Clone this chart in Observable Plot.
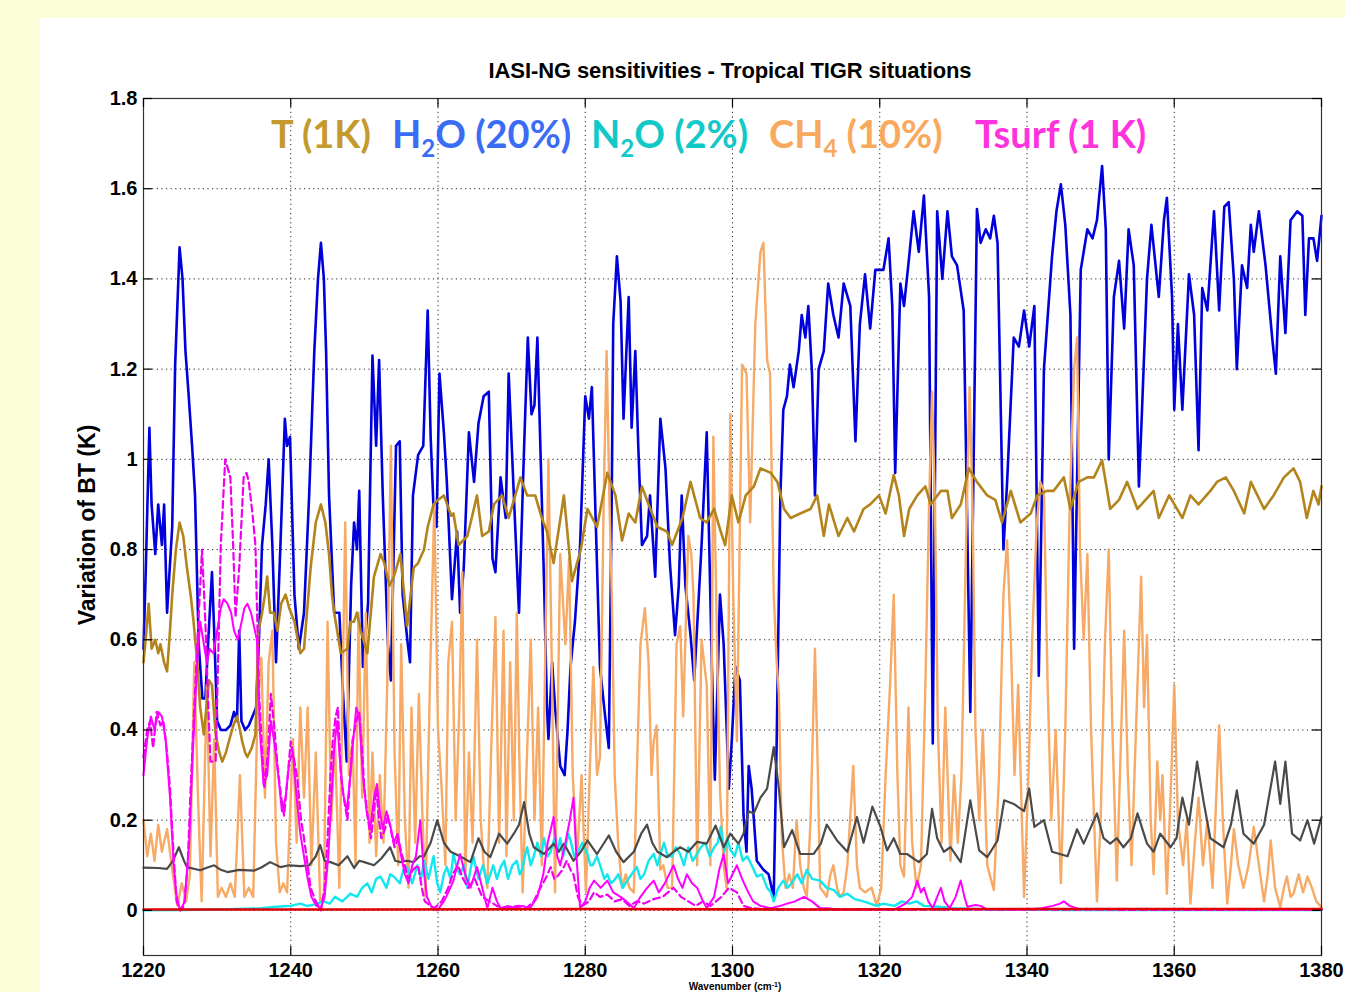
<!DOCTYPE html>
<html>
<head>
<meta charset="utf-8">
<script src="https://cdn.jsdelivr.net/npm/d3@7"></script>
<script src="https://cdn.jsdelivr.net/npm/@observablehq/plot@0.6"></script>
<style>
  html, body { margin: 0; padding: 0; }
  body { width: 1345px; height: 992px; overflow: hidden; background: #fafdd7; position: relative; font-family: "Liberation Sans", Arial, sans-serif; }
  #panel { position: absolute; left: 40px; top: 18px; right: 0; bottom: 0; background: #fff; }
  #chart { position: absolute; left: 0; top: 0; }
  #title { position: absolute; left: 0; width: 1460px; top: 58px; text-align: center; font-weight: bold; font-size: 22px; color: #000; letter-spacing: -0.1px; }
  #ylabel { position: absolute; left: 87px; top: 525px; transform: translate(-50%, -50%) rotate(-90deg); font-weight: bold; font-size: 23px; white-space: nowrap; }
  #xlabel { position: absolute; left: 0; width: 1470px; top: 982px; height: 10px; text-align: center; font-weight: bold; font-size: 10px; line-height: 10px; white-space: nowrap; }
  #xlabel sup { font-size: 7px; line-height: 0; vertical-align: 3px; }
  .lg { position: absolute; top: 114px; font-family: Lato, "Open Sans", sans-serif; font-weight: bold; font-size: 38px; white-space: nowrap; line-height: 1; }
  .lg sub { font-size: 24px; vertical-align: -9px; line-height: 0; }
</style>
</head>
<body>
<div id="panel"></div>
<div id="chart"></div>
<div id="title">IASI-NG sensitivities - Tropical TIGR situations</div>
<div id="ylabel">Variation of BT (K)</div>
<div id="xlabel">Wavenumber (cm<sup>-1</sup>)</div>
<div class="lg" style="left:271px;color:#c49a2e">T (1K)</div>
<div class="lg" style="left:392px;color:#3b6cf4">H<sub>2</sub>O (20%)</div>
<div class="lg" style="left:591px;color:#12c9c9">N<sub>2</sub>O (2%)</div>
<div class="lg" style="left:769px;color:#f9a95c">CH<sub>4</sub> (10%)</div>
<div class="lg" style="left:975px;color:#ff33dd">Tsurf (1 K)</div>
<script>
// ---- axis ticks ----
const xTicks = [1220, 1240, 1260, 1280, 1300, 1320, 1340, 1360, 1380];
const yTicks = [0, 0.2, 0.4, 0.6, 0.8, 1, 1.2, 1.4, 1.6, 1.8];

// ---- series: [wavenumber (cm-1), variation of BT (K)] ----
const h2o = [[1220.0,0.58],[1220.3,0.75],[1220.8,1.07],[1221.1,0.90],[1221.6,0.79],[1222.0,0.90],[1222.5,0.81],[1222.8,0.90],[1223.2,0.66],[1223.9,0.85],[1224.3,1.21],[1224.9,1.47],[1225.3,1.40],[1225.7,1.24],[1226.1,1.15],[1226.6,1.03],[1227.0,0.92],[1227.5,0.59],[1228.0,0.47],[1228.4,0.47],[1228.8,0.60],[1229.3,0.75],[1229.6,0.62],[1230.0,0.42],[1230.5,0.40],[1231.2,0.40],[1231.8,0.41],[1232.3,0.44],[1232.7,0.42],[1233.0,0.62],[1233.3,0.42],[1233.8,0.40],[1234.3,0.41],[1234.8,0.43],[1235.3,0.45],[1235.7,0.61],[1236.1,0.81],[1236.6,0.90],[1237.0,1.00],[1237.5,0.81],[1238.0,0.55],[1238.6,0.81],[1239.2,1.09],[1239.5,1.03],[1239.9,1.05],[1240.5,0.70],[1241.1,0.58],[1241.8,0.66],[1242.5,0.92],[1243.2,1.24],[1243.7,1.40],[1244.1,1.48],[1244.5,1.40],[1244.8,1.24],[1245.2,0.92],[1245.9,0.66],[1246.6,0.66],[1247.1,0.48],[1247.6,0.33],[1248.2,0.72],[1248.6,0.86],[1249.0,0.80],[1249.3,0.93],[1249.8,0.54],[1250.5,0.68],[1251.1,1.23],[1251.6,1.03],[1252.0,1.22],[1252.5,0.92],[1253.2,0.59],[1253.6,0.51],[1254.3,1.03],[1254.8,1.04],[1255.2,0.70],[1255.9,0.59],[1256.2,0.55],[1256.6,0.92],[1257.3,1.01],[1258.0,1.03],[1258.6,1.33],[1259.0,1.05],[1259.4,0.89],[1259.8,0.85],[1260.2,1.19],[1260.8,1.06],[1261.2,0.95],[1261.9,0.69],[1262.6,0.84],[1263.0,0.66],[1263.5,0.76],[1264.2,1.06],[1264.9,0.95],[1265.5,1.08],[1266.2,1.14],[1266.9,1.15],[1267.4,0.78],[1267.8,0.75],[1268.5,0.96],[1269.2,0.87],[1269.6,1.19],[1270.3,0.92],[1271.0,0.66],[1271.7,1.03],[1272.2,1.27],[1272.7,1.10],[1273.1,1.12],[1273.5,1.27],[1273.9,1.03],[1274.4,0.73],[1274.8,0.45],[1275.0,0.38],[1275.5,0.55],[1275.9,0.45],[1276.6,0.32],[1277.2,0.30],[1277.6,0.40],[1278.0,0.54],[1278.6,0.64],[1279.3,0.81],[1280.0,1.14],[1280.5,1.09],[1280.9,1.16],[1281.4,0.875],[1282.0,0.54],[1282.7,0.43],[1283.2,0.36],[1283.6,0.92],[1283.8,1.30],[1284.3,1.45],[1284.8,1.35],[1285.2,1.09],[1285.9,1.36],[1286.3,1.07],[1286.8,1.24],[1287.2,1.03],[1287.7,0.81],[1288.4,0.83],[1288.8,0.92],[1289.5,0.74],[1290.2,1.09],[1290.9,0.98],[1291.5,0.77],[1292.2,0.61],[1292.7,0.72],[1293.1,0.92],[1293.6,0.72],[1294.3,0.61],[1294.8,0.51],[1295.8,0.81],[1296.5,1.06],[1297.2,0.54],[1297.6,0.29],[1298.3,0.70],[1298.8,0.59],[1299.5,0.27],[1299.9,0.375],[1300.4,0.54],[1301.0,0.51],[1301.5,0.21],[1301.9,0.13],[1302.2,0.32],[1302.6,0.27],[1303.3,0.11],[1304.2,0.09],[1304.9,0.08],[1305.6,0.03],[1306.0,0.375],[1306.5,0.92],[1306.9,1.11],[1307.4,1.14],[1307.8,1.21],[1308.3,1.16],[1309.0,1.24],[1309.4,1.32],[1309.9,1.27],[1310.3,1.34],[1310.8,1.19],[1311.2,0.92],[1311.7,1.20],[1312.4,1.24],[1313.0,1.39],[1313.7,1.32],[1314.4,1.27],[1315.1,1.39],[1316.0,1.34],[1316.7,1.04],[1317.3,1.30],[1318.0,1.41],[1318.7,1.29],[1319.4,1.42],[1320.5,1.42],[1321.0,1.47],[1321.2,1.49],[1321.7,1.34],[1322.1,0.97],[1322.8,1.39],[1323.3,1.34],[1324.0,1.45],[1324.6,1.55],[1325.3,1.46],[1326.0,1.585],[1326.7,1.36],[1327.2,0.37],[1327.8,1.55],[1328.5,1.40],[1329.2,1.55],[1329.8,1.45],[1330.5,1.43],[1331.4,1.33],[1332.3,0.44],[1333.2,1.555],[1333.7,1.48],[1334.4,1.51],[1335.0,1.49],[1335.5,1.54],[1336.0,1.48],[1336.8,0.80],[1337.3,0.95],[1338.2,1.27],[1338.9,1.25],[1339.6,1.33],[1340.3,1.25],[1341.0,1.34],[1341.6,0.52],[1342.3,1.20],[1343.4,1.45],[1344.0,1.55],[1344.6,1.61],[1345.2,1.52],[1345.9,1.32],[1346.4,0.58],[1347.3,1.42],[1348.2,1.51],[1348.9,1.49],[1349.5,1.53],[1350.2,1.65],[1350.7,1.51],[1351.1,1.00],[1351.8,1.36],[1352.5,1.44],[1353.2,1.29],[1353.8,1.51],[1354.5,1.43],[1355.2,0.94],[1355.6,1.10],[1356.3,1.40],[1356.9,1.52],[1357.9,1.36],[1358.6,1.53],[1359.0,1.58],[1359.7,1.36],[1360.0,1.11],[1360.5,1.30],[1361.1,1.11],[1362.0,1.41],[1362.7,1.32],[1363.3,1.02],[1363.8,1.38],[1364.5,1.33],[1365.4,1.55],[1366.1,1.33],[1366.8,1.56],[1367.4,1.57],[1368.1,1.40],[1368.5,1.20],[1369.2,1.43],[1369.9,1.38],[1370.4,1.52],[1370.8,1.46],[1371.5,1.55],[1372.4,1.43],[1373.3,1.27],[1373.8,1.19],[1374.4,1.45],[1375.1,1.28],[1375.8,1.53],[1376.7,1.55],[1377.4,1.54],[1377.8,1.32],[1378.3,1.49],[1378.9,1.49],[1379.4,1.44],[1380.0,1.54]];

const temp = [[1220.0,0.55],[1220.4,0.62],[1220.7,0.68],[1221.1,0.58],[1221.6,0.60],[1222.0,0.57],[1222.3,0.59],[1222.8,0.55],[1223.2,0.53],[1223.6,0.62],[1223.9,0.70],[1224.4,0.80],[1224.9,0.86],[1225.4,0.83],[1225.9,0.76],[1226.4,0.70],[1226.8,0.64],[1227.3,0.55],[1227.7,0.45],[1228.2,0.39],[1228.6,0.46],[1228.9,0.51],[1229.3,0.50],[1229.8,0.39],[1230.3,0.35],[1230.7,0.33],[1231.2,0.35],[1231.6,0.375],[1232.2,0.41],[1232.7,0.43],[1233.1,0.40],[1233.4,0.375],[1233.8,0.35],[1234.1,0.34],[1234.7,0.36],[1235.2,0.39],[1235.6,0.62],[1236.0,0.65],[1236.5,0.70],[1236.8,0.74],[1237.2,0.66],[1237.7,0.66],[1238.2,0.62],[1238.7,0.68],[1239.3,0.70],[1239.8,0.67],[1240.5,0.64],[1241.3,0.57],[1241.8,0.58],[1242.7,0.76],[1243.4,0.86],[1244.1,0.90],[1244.7,0.86],[1245.2,0.79],[1245.6,0.70],[1245.9,0.66],[1246.8,0.57],[1247.7,0.58],[1248.1,0.64],[1248.6,0.64],[1249.0,0.66],[1249.5,0.62],[1250.4,0.57],[1251.3,0.74],[1252.2,0.79],[1252.7,0.77],[1253.4,0.72],[1254.0,0.74],[1254.9,0.79],[1255.8,0.63],[1256.7,0.76],[1257.3,0.77],[1258.1,0.80],[1258.6,0.85],[1259.4,0.90],[1260.0,0.91],[1260.8,0.92],[1261.8,0.875],[1262.1,0.88],[1262.8,0.81],[1264.0,0.83],[1265.3,0.92],[1266.0,0.83],[1266.9,0.84],[1267.6,0.90],[1268.7,0.92],[1269.6,0.87],[1271.2,0.96],[1272.1,0.92],[1273.2,0.92],[1274.1,0.87],[1274.8,0.84],[1275.7,0.77],[1277.1,0.92],[1278.2,0.73],[1279.4,0.80],[1280.3,0.89],[1281.6,0.85],[1283.0,0.97],[1284.1,0.92],[1285.0,0.82],[1285.9,0.88],[1286.8,0.86],[1287.7,0.94],[1288.6,0.90],[1289.8,0.85],[1291.1,0.84],[1291.8,0.81],[1293.2,0.87],[1294.3,0.95],[1295.6,0.87],[1296.5,0.86],[1297.5,0.89],[1298.4,0.84],[1299.0,0.81],[1299.9,0.92],[1300.8,0.86],[1301.8,0.92],[1302.9,0.94],[1303.8,0.98],[1305.2,0.97],[1306.1,0.95],[1307.0,0.89],[1307.9,0.87],[1309.2,0.88],[1310.6,0.89],[1311.5,0.92],[1312.4,0.83],[1313.1,0.90],[1314.4,0.83],[1315.6,0.87],[1316.5,0.84],[1317.8,0.89],[1318.7,0.90],[1319.9,0.92],[1320.8,0.88],[1321.9,0.965],[1322.6,0.92],[1323.3,0.83],[1324.0,0.89],[1325.1,0.92],[1326.2,0.94],[1326.9,0.90],[1328.3,0.93],[1329.2,0.93],[1329.8,0.87],[1331.0,0.90],[1332.1,0.98],[1333.2,0.95],[1334.6,0.92],[1335.7,0.91],[1336.6,0.86],[1337.8,0.93],[1339.1,0.86],[1340.5,0.88],[1341.4,0.92],[1342.7,0.93],[1343.6,0.93],[1345.0,0.96],[1345.9,0.89],[1347.0,0.95],[1348.2,0.96],[1349.1,0.96],[1350.2,0.998],[1351.3,0.89],[1352.5,0.91],[1353.6,0.95],[1355.0,0.89],[1356.1,0.91],[1357.2,0.93],[1357.9,0.87],[1359.3,0.92],[1361.1,0.87],[1362.2,0.92],[1363.3,0.90],[1364.9,0.93],[1365.8,0.95],[1367.0,0.96],[1368.1,0.93],[1369.5,0.88],[1370.4,0.95],[1371.3,0.92],[1372.2,0.89],[1373.5,0.92],[1374.9,0.96],[1376.2,0.98],[1377.1,0.95],[1378.0,0.87],[1378.9,0.93],[1379.6,0.90],[1380.0,0.94]];

const ch4 = [[1220.0,0.20],[1220.5,0.12],[1221.0,0.17],[1221.5,0.11],[1222.0,0.19],[1222.5,0.13],[1223.2,0.18],[1223.9,0.09],[1224.6,0.01],[1225.2,0.06],[1225.8,0.02],[1226.3,0.08],[1226.9,0.55],[1227.4,0.25],[1227.9,0.02],[1228.6,0.50],[1229.1,0.12],[1229.6,0.38],[1230.1,0.03],[1230.6,0.05],[1231.2,0.03],[1231.8,0.06],[1232.4,0.03],[1233.1,0.30],[1233.7,0.03],[1234.3,0.05],[1234.9,0.03],[1235.5,0.45],[1236.0,0.56],[1236.5,0.25],[1237.0,0.55],[1237.5,0.62],[1238.0,0.15],[1238.5,0.04],[1239.0,0.06],[1239.5,0.04],[1240.3,0.38],[1240.8,0.15],[1241.3,0.45],[1241.8,0.25],[1242.3,0.45],[1242.8,0.10],[1243.4,0.35],[1244.0,0.02],[1244.5,0.03],[1245.0,0.64],[1245.5,0.20],[1246.0,0.38],[1246.6,0.05],[1247.4,0.86],[1247.9,0.30],[1248.4,0.38],[1248.8,0.10],[1249.2,0.66],[1249.7,0.25],[1250.2,0.66],[1250.7,0.15],[1251.1,0.35],[1251.6,0.12],[1252.1,0.30],[1252.6,0.15],[1253.1,0.50],[1253.6,1.03],[1254.1,0.35],[1254.6,0.10],[1255.0,0.59],[1255.5,0.20],[1256.0,0.05],[1256.4,0.45],[1256.9,0.15],[1257.4,0.48],[1257.9,0.20],[1258.3,0.03],[1258.9,0.50],[1259.5,0.90],[1260.0,0.40],[1260.5,0.27],[1261.0,0.10],[1261.4,0.55],[1261.9,0.64],[1262.4,0.20],[1262.9,0.45],[1263.3,0.75],[1263.7,0.07],[1264.2,0.35],[1264.7,0.15],[1265.3,0.60],[1265.8,0.20],[1266.2,0.10],[1266.7,0.05],[1267.3,0.40],[1267.8,0.65],[1268.3,0.15],[1268.9,0.62],[1269.3,0.12],[1269.8,0.55],[1270.3,0.20],[1270.7,0.66],[1271.1,0.30],[1271.5,0.04],[1272.0,0.30],[1272.6,0.60],[1273.1,0.20],[1273.6,0.45],[1274.1,0.10],[1274.6,0.60],[1275.0,1.00],[1275.5,0.50],[1275.9,0.04],[1276.6,0.79],[1277.3,0.59],[1277.8,0.78],[1278.3,0.30],[1278.9,0.12],[1279.5,0.30],[1280.1,0.04],[1280.6,0.30],[1281.1,0.54],[1281.6,0.30],[1282.0,0.34],[1282.5,0.90],[1282.9,1.24],[1283.3,0.90],[1283.6,0.70],[1284.0,0.30],[1284.5,0.14],[1285.0,0.05],[1285.5,0.08],[1286.0,0.05],[1286.6,0.04],[1287.0,0.30],[1287.5,0.59],[1288.1,0.67],[1288.6,0.55],[1289.0,0.30],[1289.3,0.375],[1289.7,0.41],[1290.2,0.09],[1290.6,0.10],[1291.2,0.05],[1291.8,0.05],[1292.4,0.59],[1292.9,0.63],[1293.3,0.43],[1294.0,0.83],[1294.4,0.79],[1294.7,0.70],[1295.2,0.10],[1295.8,0.60],[1296.5,0.50],[1297.0,0.10],[1297.4,1.05],[1297.9,0.59],[1298.3,0.27],[1298.8,0.10],[1299.2,0.05],[1299.7,1.10],[1300.1,0.70],[1300.6,0.375],[1301.3,1.21],[1301.9,1.19],[1302.4,0.86],[1303.1,1.30],[1303.8,1.46],[1304.2,1.48],[1304.7,1.22],[1305.1,1.19],[1305.6,0.70],[1306.0,0.55],[1306.3,0.48],[1306.7,0.16],[1307.2,0.05],[1307.7,0.08],[1308.2,0.05],[1308.7,0.20],[1309.2,0.10],[1309.7,0.05],[1310.1,0.03],[1310.6,0.20],[1311.2,0.58],[1311.6,0.30],[1311.9,0.05],[1312.4,0.04],[1312.8,0.03],[1313.3,0.08],[1313.7,0.10],[1314.2,0.05],[1314.6,0.03],[1315.1,0.04],[1315.6,0.10],[1316.4,0.32],[1316.9,0.10],[1317.3,0.05],[1318.0,0.04],[1318.9,0.05],[1319.6,0.01],[1320.2,0.05],[1320.8,0.30],[1321.4,0.50],[1321.9,0.70],[1322.4,0.30],[1322.8,0.10],[1323.3,0.075],[1323.9,0.45],[1324.4,0.15],[1325.0,0.05],[1325.6,0.10],[1326.2,0.50],[1326.7,0.90],[1327.1,1.15],[1327.5,0.90],[1327.9,0.40],[1328.4,0.15],[1328.9,0.45],[1329.6,0.11],[1330.1,0.30],[1330.6,0.15],[1331.1,0.30],[1331.7,0.80],[1332.2,1.16],[1332.6,0.90],[1333.0,0.40],[1333.5,0.20],[1334.0,0.40],[1334.6,0.10],[1335.5,0.045],[1336.2,0.30],[1336.8,0.70],[1337.3,0.82],[1337.8,0.60],[1338.3,0.30],[1338.8,0.50],[1339.6,0.03],[1340.2,0.30],[1340.7,0.60],[1341.3,0.85],[1341.8,0.95],[1342.3,0.93],[1342.8,0.50],[1343.3,0.20],[1343.9,0.40],[1344.6,0.06],[1345.2,0.40],[1345.8,0.90],[1346.4,1.20],[1346.8,1.27],[1347.2,0.80],[1347.7,0.60],[1348.2,0.79],[1348.7,0.40],[1349.5,0.02],[1350.0,0.20],[1350.6,0.60],[1351.1,0.80],[1351.6,0.40],[1352.2,0.066],[1352.8,0.40],[1353.2,0.62],[1353.7,0.30],[1354.2,0.10],[1354.8,0.40],[1355.5,0.74],[1355.9,0.45],[1356.3,0.61],[1356.8,0.20],[1357.2,0.08],[1357.7,0.33],[1358.1,0.20],[1358.4,0.30],[1359.0,0.037],[1359.6,0.30],[1360.0,0.50],[1360.5,0.20],[1361.2,0.10],[1361.7,0.20],[1362.2,0.015],[1362.8,0.15],[1363.3,0.25],[1363.9,0.10],[1364.5,0.20],[1365.2,0.05],[1365.7,0.25],[1366.1,0.41],[1366.6,0.20],[1367.2,0.015],[1367.7,0.10],[1368.1,0.18],[1368.7,0.10],[1369.4,0.05],[1370.1,0.10],[1370.8,0.185],[1371.5,0.10],[1372.2,0.02],[1372.7,0.08],[1373.1,0.155],[1373.7,0.05],[1374.4,0.007],[1374.9,0.05],[1375.3,0.075],[1375.8,0.03],[1376.2,0.037],[1376.9,0.08],[1377.5,0.04],[1378.1,0.075],[1378.7,0.05],[1379.3,0.02],[1380.0,0.007]];

const n2o = [[1220,0.0],[1225,0.001],[1230,0.002],[1234,0.004],[1236,0.005],[1238,0.008],[1240,0.01],[1241.3,0.015],[1242.2,0.01],[1243,0.012],[1244.5,0.02],[1245.3,0.015],[1246,0.03],[1247,0.02],[1248.1,0.037],[1249,0.03],[1249.7,0.05],[1250.4,0.06],[1251,0.04],[1251.6,0.07],[1252.2,0.075],[1253,0.05],[1253.5,0.08],[1254,0.075],[1254.8,0.06],[1255.3,0.09],[1255.8,0.096],[1256.5,0.06],[1257.2,0.10],[1257.7,0.07],[1258.1,0.11],[1258.7,0.07],[1259.4,0.12],[1259.9,0.06],[1260.3,0.04],[1260.8,0.08],[1261.2,0.096],[1261.7,0.07],[1262.1,0.125],[1262.6,0.09],[1263,0.08],[1263.5,0.10],[1264,0.05],[1264.4,0.09],[1264.8,0.12],[1265.2,0.09],[1265.5,0.07],[1266.1,0.10],[1266.7,0.06],[1267.1,0.08],[1267.5,0.10],[1268,0.07],[1268.5,0.096],[1269,0.11],[1269.5,0.07],[1270.1,0.10],[1270.7,0.11],[1271.1,0.08],[1271.4,0.09],[1271.8,0.12],[1272.1,0.14],[1272.6,0.10],[1273,0.12],[1273.5,0.15],[1274,0.12],[1274.4,0.16],[1274.9,0.12],[1275.3,0.13],[1275.8,0.16],[1276.2,0.13],[1276.6,0.16],[1277,0.12],[1277.3,0.14],[1277.7,0.17],[1278,0.155],[1278.5,0.12],[1279,0.13],[1279.6,0.15],[1280.3,0.125],[1280.7,0.10],[1281,0.10],[1281.6,0.12],[1282.1,0.096],[1282.6,0.07],[1283,0.08],[1283.5,0.06],[1283.9,0.066],[1284.5,0.08],[1285.1,0.05],[1285.7,0.066],[1286.3,0.08],[1287,0.096],[1287.5,0.07],[1288,0.08],[1288.6,0.11],[1289.3,0.125],[1289.8,0.10],[1290.3,0.13],[1290.7,0.15],[1291.2,0.12],[1291.8,0.12],[1292.3,0.14],[1292.9,0.125],[1293.4,0.10],[1294,0.14],[1294.6,0.11],[1295.2,0.125],[1295.7,0.14],[1296.3,0.15],[1296.9,0.12],[1297.5,0.14],[1298,0.15],[1298.4,0.185],[1298.9,0.13],[1299.3,0.16],[1299.7,0.135],[1300.3,0.12],[1300.8,0.15],[1301.4,0.11],[1302,0.12],[1302.6,0.10],[1303.3,0.075],[1304,0.08],[1304.7,0.05],[1305.2,0.04],[1305.6,0.02],[1306.2,0.05],[1306.9,0.066],[1307.5,0.05],[1308,0.06],[1308.8,0.08],[1309.4,0.06],[1310.1,0.09],[1310.8,0.07],[1311.9,0.066],[1312.8,0.05],[1313.8,0.045],[1314.6,0.03],[1315.6,0.037],[1316.6,0.025],[1317.8,0.02],[1318.7,0.015],[1319.6,0.01],[1320.5,0.015],[1322,0.01],[1323,0.02],[1324,0.015],[1325,0.02],[1326,0.01],[1328,0.008],[1330,0.005],[1335,0.002],[1345,0.001],[1380,0.001]];

const refLine = [[1220,0.095],[1222,0.094],[1223.2,0.092],[1224.0,0.11],[1224.8,0.14],[1225.5,0.11],[1225.9,0.096],[1227.7,0.089],[1228.5,0.094],[1229.6,0.10],[1230.5,0.09],[1231.4,0.085],[1233,0.09],[1235,0.088],[1236,0.095],[1237.2,0.107],[1238.6,0.096],[1239.8,0.10],[1241.3,0.098],[1242.5,0.10],[1243.4,0.12],[1244.0,0.145],[1244.6,0.11],[1245.4,0.107],[1246.5,0.10],[1247.7,0.12],[1248.6,0.094],[1249.3,0.11],[1250.0,0.107],[1251.3,0.10],[1252.3,0.115],[1253.5,0.14],[1254.2,0.11],[1254.9,0.107],[1255.8,0.11],[1256.7,0.107],[1257.5,0.12],[1258.1,0.12],[1259.0,0.15],[1259.9,0.20],[1260.8,0.15],[1261.7,0.13],[1263.0,0.12],[1264.4,0.107],[1265.5,0.16],[1266.3,0.13],[1267.1,0.118],[1268.3,0.17],[1269.4,0.148],[1270.3,0.17],[1271.0,0.19],[1271.7,0.24],[1272.4,0.17],[1273.0,0.14],[1274.4,0.125],[1275.7,0.148],[1276.4,0.13],[1277.1,0.148],[1278.4,0.11],[1279.4,0.13],[1280.3,0.155],[1281.6,0.125],[1283.2,0.166],[1284.2,0.13],[1285.2,0.107],[1286.6,0.13],[1287.6,0.17],[1288.4,0.19],[1289.1,0.15],[1289.8,0.13],[1291.1,0.118],[1292.0,0.13],[1292.9,0.14],[1294.0,0.13],[1295.2,0.152],[1296.5,0.148],[1297.7,0.188],[1298.8,0.14],[1299.7,0.17],[1300.8,0.148],[1301.5,0.17],[1302.2,0.22],[1302.9,0.215],[1303.8,0.25],[1304.7,0.27],[1305.6,0.362],[1306.3,0.27],[1307.0,0.14],[1308.1,0.178],[1309.2,0.125],[1311.0,0.125],[1312.0,0.148],[1312.8,0.19],[1314.2,0.155],[1315.6,0.13],[1316.9,0.207],[1317.8,0.15],[1319.0,0.23],[1320.1,0.185],[1321.0,0.133],[1321.9,0.16],[1322.8,0.125],[1323.7,0.125],[1325.3,0.107],[1326.4,0.125],[1327.1,0.225],[1327.8,0.16],[1328.7,0.13],[1329.6,0.14],[1331.0,0.107],[1332.3,0.244],[1333.5,0.133],[1334.6,0.118],[1336.0,0.155],[1336.9,0.244],[1338.2,0.236],[1339.6,0.22],[1340.3,0.27],[1341.0,0.185],[1342.3,0.20],[1343.4,0.13],[1345.5,0.12],[1346.8,0.18],[1347.7,0.148],[1349.5,0.215],[1350.4,0.16],[1351.3,0.148],[1352.2,0.16],[1353.1,0.14],[1354.1,0.16],[1355.0,0.215],[1356.3,0.148],[1357.2,0.13],[1358.1,0.17],[1359.5,0.14],[1360.3,0.16],[1361.1,0.25],[1362.0,0.19],[1363.1,0.33],[1364.0,0.24],[1364.9,0.16],[1366.7,0.14],[1367.7,0.19],[1368.5,0.266],[1369.4,0.17],[1370.8,0.148],[1372.2,0.19],[1373.7,0.33],[1374.4,0.236],[1375.1,0.33],[1376.0,0.17],[1377.1,0.155],[1378.1,0.20],[1379.0,0.148],[1380.0,0.207]];

const tsurfDashed = [[1220.0,0.34],[1220.5,0.40],[1220.9,0.42],[1221.3,0.36],[1221.8,0.44],[1222.3,0.41],[1222.7,0.42],[1223.2,0.35],[1223.6,0.27],[1224.1,0.12],[1224.5,0.02],[1225.0,0.0],[1225.5,0.01],[1226.0,0.10],[1226.4,0.27],[1226.9,0.45],[1227.3,0.59],[1227.95,0.80],[1228.4,0.64],[1228.8,0.45],[1229.1,0.33],[1229.8,0.33],[1230.2,0.60],[1230.5,0.81],[1231.1,1.0],[1231.8,0.96],[1232.2,0.80],[1232.5,0.65],[1233.0,0.76],[1233.6,0.96],[1234.0,0.97],[1234.3,0.95],[1234.8,0.88],[1235.2,0.81],[1235.7,0.48],[1236.4,0.27],[1236.9,0.35],[1237.3,0.48],[1237.8,0.40],[1238.2,0.32],[1238.7,0.25],[1239.1,0.21],[1239.6,0.30],[1240.0,0.375],[1240.5,0.33],[1240.9,0.29],[1241.4,0.20],[1241.8,0.16],[1242.3,0.10],[1242.7,0.05],[1243.4,0.02],[1244.1,0.0],[1244.6,0.05],[1245.0,0.16],[1245.4,0.30],[1245.7,0.375],[1246.1,0.43],[1246.4,0.45],[1246.8,0.30],[1247.2,0.25],[1247.7,0.20],[1248.0,0.28],[1248.4,0.375],[1248.9,0.42],[1249.3,0.44],[1249.7,0.35],[1250.0,0.27],[1250.5,0.20],[1250.9,0.16],[1251.3,0.22],[1251.6,0.27],[1252.0,0.20],[1252.3,0.16],[1252.8,0.18],[1253.2,0.21],[1253.7,0.17],[1254.1,0.14],[1254.6,0.16],[1255.0,0.13],[1255.5,0.10],[1255.9,0.07],[1256.6,0.09],[1257.3,0.10],[1257.8,0.05],[1258.2,0.02],[1259.0,0.01],[1259.5,0.005],[1260.5,0.02],[1261.4,0.05],[1262.0,0.08],[1262.7,0.10],[1263.4,0.07],[1264.1,0.05],[1265.0,0.07],[1266.0,0.03],[1267.0,0.02],[1268.0,0.01],[1269.0,0.005],[1270.0,0.008],[1271.0,0.01],[1272.0,0.005],[1273.0,0.02],[1273.9,0.05],[1274.6,0.07],[1275.3,0.096],[1275.8,0.07],[1276.2,0.075],[1276.9,0.09],[1277.5,0.11],[1278.0,0.09],[1278.4,0.08],[1279.0,0.03],[1279.6,0.01],[1280.5,0.02],[1281.2,0.04],[1282.0,0.03],[1283.0,0.035],[1284.0,0.02],[1285.0,0.025],[1286.0,0.01],[1287.0,0.02],[1288.0,0.015],[1289.3,0.025],[1290.5,0.03],[1292.0,0.05],[1293.0,0.03],[1294.0,0.02],[1295.0,0.01],[1296.0,0.02],[1297.0,0.01],[1298.5,0.03],[1299.5,0.05],[1300.6,0.04],[1301.5,0.01],[1302.5,0.005],[1304.0,0.003],[1306.0,0.002],[1380.0,0.001]];

const tsurf = [[1220.0,0.30],[1220.5,0.38],[1221.0,0.43],[1221.5,0.40],[1222.0,0.44],[1222.5,0.43],[1223.0,0.38],[1223.6,0.25],[1224.1,0.10],[1224.5,0.03],[1225.0,0.0],[1225.6,0.02],[1226.2,0.15],[1226.7,0.35],[1227.3,0.55],[1227.7,0.64],[1228.1,0.60],[1228.6,0.55],[1229.0,0.58],[1229.5,0.57],[1230.0,0.62],[1230.5,0.67],[1230.9,0.69],[1231.4,0.68],[1231.9,0.66],[1232.3,0.62],[1232.8,0.60],[1233.2,0.63],[1233.7,0.67],[1234.1,0.68],[1234.6,0.66],[1235.0,0.63],[1235.4,0.60],[1235.8,0.40],[1236.3,0.28],[1236.8,0.30],[1237.3,0.42],[1237.8,0.37],[1238.3,0.30],[1238.8,0.22],[1239.3,0.25],[1239.8,0.33],[1240.3,0.35],[1240.8,0.25],[1241.3,0.17],[1241.8,0.12],[1242.3,0.07],[1242.8,0.03],[1243.5,0.01],[1244.1,0.005],[1244.6,0.03],[1245.1,0.12],[1245.5,0.24],[1245.9,0.36],[1246.3,0.42],[1246.7,0.33],[1247.1,0.26],[1247.6,0.22],[1248.1,0.30],[1248.5,0.38],[1248.9,0.45],[1249.3,0.43],[1249.8,0.30],[1250.3,0.22],[1250.8,0.18],[1251.3,0.25],[1251.7,0.28],[1252.1,0.22],[1252.5,0.18],[1253.0,0.22],[1253.5,0.19],[1254.0,0.15],[1254.5,0.17],[1255.0,0.12],[1255.5,0.08],[1256.0,0.06],[1256.5,0.10],[1257.0,0.12],[1257.6,0.20],[1258.0,0.10],[1258.5,0.03],[1259.2,0.005],[1259.9,0.0],[1260.8,0.02],[1261.4,0.04],[1262.1,0.066],[1263.0,0.125],[1263.7,0.08],[1264.4,0.05],[1265.3,0.096],[1266.0,0.05],[1266.7,0.005],[1267.4,0.05],[1268.0,0.02],[1268.5,0.005],[1269.5,0.01],[1270.5,0.005],[1271.5,0.01],[1272.5,0.005],[1273.5,0.03],[1274.3,0.08],[1274.9,0.15],[1275.7,0.207],[1276.2,0.12],[1276.6,0.10],[1277.3,0.15],[1277.9,0.20],[1278.4,0.25],[1278.8,0.12],[1279.3,0.005],[1280.0,0.02],[1280.6,0.05],[1281.2,0.066],[1282.1,0.05],[1283.0,0.066],[1283.8,0.04],[1284.8,0.03],[1285.6,0.02],[1286.6,0.005],[1287.5,0.03],[1288.4,0.05],[1289.3,0.066],[1290.0,0.04],[1290.8,0.06],[1292.0,0.10],[1292.6,0.07],[1293.2,0.05],[1293.8,0.08],[1294.5,0.06],[1295.2,0.05],[1296.0,0.02],[1296.5,0.005],[1297.5,0.03],[1298.2,0.09],[1298.8,0.125],[1299.4,0.06],[1300.0,0.08],[1300.6,0.10],[1301.3,0.07],[1302.0,0.045],[1302.8,0.02],[1303.8,0.01],[1305.2,0.005],[1306.5,0.01],[1307.4,0.015],[1308.5,0.02],[1309.7,0.03],[1310.8,0.02],[1311.9,0.005],[1313.0,0.005],[1314.0,0.002],[1322.0,0.002],[1323.5,0.015],[1324.4,0.03],[1325.1,0.066],[1325.6,0.04],[1326.0,0.05],[1326.6,0.02],[1327.2,0.005],[1327.8,0.03],[1328.3,0.05],[1328.8,0.02],[1329.5,0.005],[1330.3,0.03],[1331.0,0.066],[1331.5,0.03],[1331.9,0.008],[1333.0,0.012],[1333.7,0.01],[1334.5,0.003],[1340.0,0.002],[1342.0,0.005],[1343.5,0.01],[1344.5,0.015],[1345.0,0.02],[1345.8,0.01],[1347.0,0.003],[1380.0,0.002]];

const zeroLine = [[1220,0.002],[1250,0.002],[1280,0.003],[1310,0.002],[1340,0.003],[1360,0.003],[1380,0.003]];

// ---- chart ----
const W = 1345, H = 992;
const mL = 143, mR = 24, mT = 98, mB = 37;
const plotW = W - mL - mR, plotH = H - mT - mB;
const fmt = d => String(+d.toFixed(1));
const line = (data, o) => Plot.line(data, {x: d => d[0], y: d => d[1], strokeLinejoin: "round", ...o});

const chart = Plot.plot({
  width: W, height: H,
  marginLeft: mL, marginRight: mR, marginTop: mT, marginBottom: mB,
  style: {background: "none", fontFamily: "'Liberation Sans', Arial, sans-serif", fontSize: "20px", fontWeight: "bold", color: "#000", overflow: "visible"},
  x: {domain: [1220, 1380]},
  y: {domain: [-0.1, 1.8]},
  marks: [
    Plot.gridX({ticks: xTicks, stroke: "#000", strokeOpacity: 0.85, strokeDasharray: "1.2,3.4"}),
    Plot.gridY({ticks: yTicks, stroke: "#000", strokeOpacity: 0.85, strokeDasharray: "1.2,3.4"}),
    line(h2o, {stroke: "#0000dc", strokeWidth: 2.6}),
    line(ch4, {stroke: "#f6aa66", strokeWidth: 2.4}),
    line(temp, {stroke: "#b3841b", strokeWidth: 2.6}),
    line(n2o, {stroke: "#12e6ee", strokeWidth: 2.4}),
    line(refLine, {stroke: "#4a4a4a", strokeWidth: 2.2}),
    line(tsurfDashed, {stroke: "#f000f0", strokeWidth: 2.2, strokeDasharray: "7,4"}),
    line(tsurf, {stroke: "#ff00ff", strokeWidth: 2}),
    line(zeroLine, {stroke: "#e00000", strokeWidth: 2.6}),
    Plot.frame({stroke: "#333", strokeWidth: 1.2}),
    Plot.tickX(xTicks, {x: d => d, stroke: "#000", strokeWidth: 1.2, insetTop: plotH - 9}),
    Plot.tickX(xTicks, {x: d => d, stroke: "#000", strokeWidth: 1.2, insetBottom: plotH - 9}),
    Plot.tickY(yTicks, {y: d => d, stroke: "#000", strokeWidth: 1.2, insetRight: plotW - 9}),
    Plot.tickY(yTicks, {y: d => d, stroke: "#000", strokeWidth: 1.2, insetLeft: plotW - 9}),
    Plot.axisX({ticks: xTicks, tickSize: 0, tickPadding: 7, tickFormat: d => String(d), label: null, fontWeight: "bold"}),
    Plot.axisY({ticks: yTicks, tickSize: 0, tickPadding: 6, tickFormat: fmt, label: null, fontWeight: "bold"})
  ]
});
document.getElementById("chart").appendChild(chart);
</script>
</body>
</html>
